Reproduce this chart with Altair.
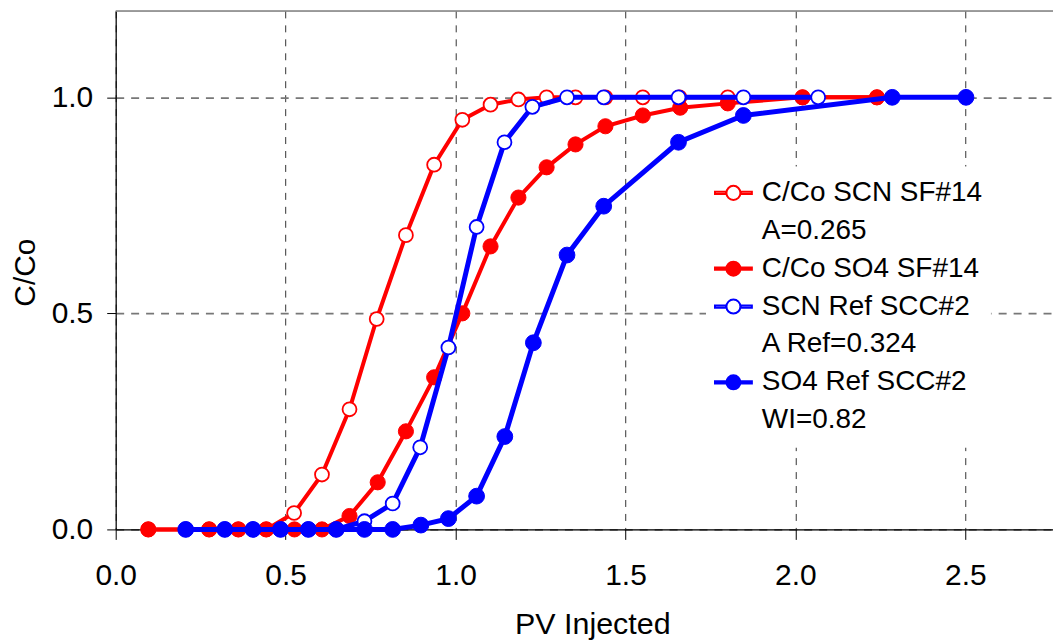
import altair as alt
import pandas as pd

# ---------------- data ----------------
series_names = ["C/Co SCN SF#14", "C/Co SO4 SF#14", "SCN Ref SCC#2", "SO4 Ref SCC#2"]
legend_order = ["C/Co SCN SF#14", "A=0.265", "C/Co SO4 SF#14", "SCN Ref SCC#2",
                "A Ref=0.324", "SO4 Ref SCC#2", "WI=0.82"]
stroke_colors = ["#ff0000", "transparent", "#ff0000", "#0000ff", "transparent", "#0000ff", "transparent"]
fill_colors = ["#ffffff", "transparent", "#ff0000", "#ffffff", "transparent", "#0000ff", "transparent"]

scn_sf_pv = [0.096, 0.275, 0.361, 0.443, 0.525, 0.607, 0.688, 0.768, 0.854, 0.937, 1.020,
             1.103, 1.185, 1.268, 1.353, 1.441, 1.551, 1.659, 1.801, 2.021, 2.240]
scn_sf_c = [0.0, 0.0, 0.0, 0.0, 0.038, 0.127, 0.278, 0.487, 0.681, 0.844, 0.948,
            0.983, 0.995, 1.0, 1.0, 1.0, 1.0, 1.0, 1.0, 1.0, 1.0]

so4_sf_pv = [0.096, 0.275, 0.361, 0.443, 0.526, 0.607, 0.688, 0.771, 0.854, 0.937, 1.020,
             1.103, 1.185, 1.268, 1.353, 1.441, 1.551, 1.661, 1.801, 2.021, 2.240]
so4_sf_c = [0.0, 0.0, 0.0, 0.0, 0.0, 0.0, 0.031, 0.109, 0.227, 0.352, 0.500,
            0.655, 0.768, 0.838, 0.891, 0.933, 0.958, 0.976, 0.986, 1.0, 1.0]

scn_ref_pv = [0.206, 0.321, 0.404, 0.485, 0.567, 0.649, 0.732, 0.815, 0.896, 0.979,
              1.062, 1.144, 1.226, 1.328, 1.436, 1.656, 1.847, 2.067]
scn_ref_c = [0.0, 0.0, 0.0, 0.0, 0.0, 0.0, 0.019, 0.060, 0.190, 0.421,
             0.700, 0.896, 0.978, 1.0, 1.0, 1.0, 1.0, 1.0]

so4_ref_pv = [0.206, 0.321, 0.404, 0.485, 0.567, 0.649, 0.732, 0.815, 0.898, 0.979,
              1.062, 1.145, 1.229, 1.328, 1.436, 1.656, 1.847, 2.285, 2.502]
so4_ref_c = [0.0, 0.0, 0.0, 0.0, 0.0, 0.0, 0.0, 0.0, 0.010, 0.025,
             0.077, 0.215, 0.432, 0.635, 0.748, 0.896, 0.958, 1.0, 1.0]

x_ticks = [0.0, 0.5, 1.0, 1.5, 2.0, 2.5]
y_ticks = [0.0, 0.5, 1.0]
x_max = 2.758
y_max = 1.2

all_pv = [scn_sf_pv, so4_sf_pv, scn_ref_pv, so4_ref_pv]
all_c = [scn_sf_c, so4_sf_c, scn_ref_c, so4_ref_c]

# ---------------- styling ----------------
FONT = "Liberation Sans"
line_widths = [4, 4, 5, 5]
point_sizes = [195, 230, 195, 250]
point_strokes = [1.8, 1, 1.8, 1]

stroke_scale = alt.Scale(domain=legend_order, range=stroke_colors)
fill_scale = alt.Scale(domain=legend_order, range=fill_colors)

x_enc = alt.X("pv:Q", scale=alt.Scale(domain=[0, x_max], nice=False, zero=False),
              axis=alt.Axis(values=x_ticks, format=".1f", title="PV Injected",
                            grid=True, gridColor="#333333", gridDash=[7, 7], gridWidth=1,
                            domainColor="black", domainWidth=1.2, tickColor="black",
                            tickSize=10, tickWidth=1, labelFontSize=30, labelColor="black",
                            labelPadding=21, labelFont=FONT, labelFlush=False,
                            titleFontSize=30.5, titleFontWeight="normal", titleColor="black",
                            titleFont=FONT, titleBaseline="alphabetic", titleY=104,
                            titleX=478, titleAlign="center", zindex=0))
y_enc = alt.Y("c:Q", scale=alt.Scale(domain=[0, y_max], nice=False),
              axis=alt.Axis(values=y_ticks, format=".1f", title="C/Co",
                            grid=True, gridColor="#777777", gridDash=[8, 7], gridWidth=1.8,
                            domainColor="black", domainWidth=1.2, tickColor="black",
                            tickSize=9, tickWidth=1, labelFontSize=30, labelColor="black",
                            labelPadding=14, labelFont=FONT, labelFlush=False,
                            titleFontSize=30, titleFontWeight="normal", titleColor="black",
                            titleFont=FONT, titleBaseline="alphabetic", titleX=-81,
                            titleY=262, titleAngle=270, titleAlign="center", zindex=0))

sym_path = ("M-1,-0.06L-0.4,-0.06L-0.4,0.06L-1,0.06Z "
            "M0.4,-0.06L1,-0.06L1,0.06L0.4,0.06Z "
            "M-0.38,0A0.38,0.38,0,1,1,0.38,0A0.38,0.38,0,1,1,-0.38,0Z")

legend = alt.Legend(title=None, orient="none", legendX=592, legendY=156,
                    symbolType=sym_path, symbolSize=1369, symbolStrokeWidth=2,
                    symbolFillColor="white", symbolStrokeColor="black", symbolOpacity=1,
                    labelFontSize=28, labelFont=FONT, labelColor="black", labelLimit=400,
                    labelOffset=9, rowPadding=1, clipHeight=37, padding=8,
                    fillColor="white", strokeColor="white")

layers = []
for i, name in enumerate(series_names):
    df = pd.DataFrame({"pv": all_pv[i], "c": all_c[i], "series": name})
    base = alt.Chart(df)
    line = base.mark_line().encode(
        x=x_enc, y=y_enc,
        stroke=alt.Stroke("series:N", scale=stroke_scale, legend=legend),
        strokeWidth=alt.value(line_widths[i]),
    )
    pts = base.mark_point(shape="circle", size=point_sizes[i],
                          opacity=1, fillOpacity=1).encode(
        x=x_enc, y=y_enc,
        stroke=alt.Stroke("series:N", scale=stroke_scale, legend=legend),
        fill=alt.Fill("series:N", scale=fill_scale, legend=legend),
        strokeWidth=alt.value(point_strokes[i]),
    )
    layers += [line, pts]

top_border = alt.Chart(pd.DataFrame({"c": [y_max]})).mark_rule(
    color="#808080", strokeWidth=1.5).encode(y=alt.Y("c:Q", scale=alt.Scale(domain=[0, y_max], nice=False)))

chart = alt.layer(top_border, *layers).properties(
    width=940, height=520,
    autosize=alt.AutoSizeParams(type="none"),
    padding={"left": 108, "top": 2, "right": 0, "bottom": 113},
).configure_view(stroke=None).configure(font=FONT, background="white")

chart.save("out.html", embed_options={"renderer": "svg", "actions": False})
